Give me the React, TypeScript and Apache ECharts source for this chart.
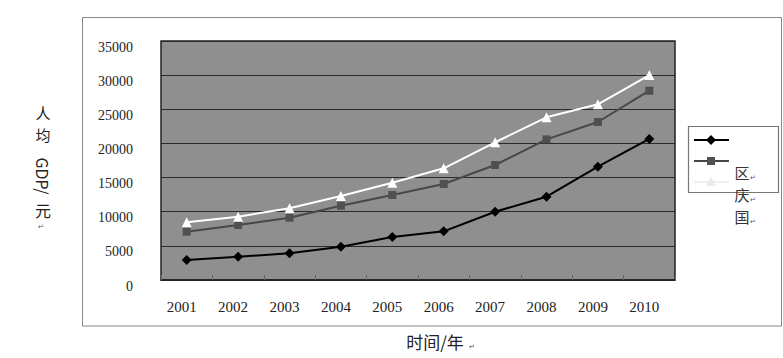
import React, { useEffect, useRef } from "react";
import * as echarts from "echarts";

const years = ["2001", "2002", "2003", "2004", "2005", "2006", "2007", "2008", "2009", "2010"];
const seriesNames = ["区", "庆", "国"];
const blackValues = [2930, 3410, 3910, 4880, 6300, 7130, 10000, 12200, 16590, 20650];
const grayValues = [7070, 8060, 9120, 10880, 12450, 14060, 16840, 20600, 23140, 27720];
const whiteValues = [8450, 9270, 10500, 12300, 14250, 16360, 20170, 23830, 25730, 30020];
const yMin = 0;
const yMax = 35000;
const yStep = 5000;

const serif = "'Liberation Serif', 'Times New Roman', serif";
const cjk = "'Noto Sans CJK SC', sans-serif";

function txt(text: string, x: number, y: number, size: number, extra: any = {}) {
  return {
    type: "text",
    x,
    y,
    rotation: extra.rotation || 0,
    z: 10,
    style: {
      text,
      x: 0,
      y: 0,
      fill: extra.fill || "#222",
      font: `${size}px ${extra.font || cjk}`,
      lineHeight: extra.lineHeight || size,
      align: extra.align || "center",
      verticalAlign: "middle",
      textAlign: extra.align || "center",
      textVerticalAlign: "middle",
    },
  };
}

export default function App() {
  const ref = useRef<HTMLDivElement>(null);
  useEffect(() => {
    if (!ref.current) return;
    const chart = echarts.init(ref.current, null, { renderer: "svg" });
    chart.setOption({
      animation: false,
      backgroundColor: "#fff",
      grid: {
        left: 161,
        top: 41,
        right: 108,
        bottom: 78,
        show: true,
        backgroundColor: "#8f8f8f",
        borderColor: "#222",
        borderWidth: 1.5,
      },
      xAxis: {
        type: "category",
        data: years,
        boundaryGap: true,
        axisLine: { show: true, lineStyle: { color: "#222", width: 1.5 } },
        axisTick: { show: true, inside: true, length: 5, lineStyle: { color: "#666" } },
        axisLabel: {
          color: "#222",
          fontFamily: serif,
          fontSize: 15,
          margin: 19,
          padding: [0, 10, 0, 0],
        },
      },
      yAxis: {
        type: "value",
        min: yMin,
        max: yMax,
        interval: yStep,
        axisLine: { show: false },
        axisTick: { show: false },
        splitLine: { show: true, lineStyle: { color: "#2a2a2a", width: 1 } },
        axisLabel: {
          color: "#222",
          fontFamily: serif,
          fontSize: 14,
          margin: 28,
          verticalAlign: "top",
          lineHeight: 12,
          formatter: (v: number) => String(v),
        },
      },
      series: [
        {
          type: "line",
          name: seriesNames[0],
          data: blackValues,
          symbol: "diamond",
          symbolSize: 10,
          lineStyle: { color: "#000", width: 2 },
          itemStyle: { color: "#000" },
        },
        {
          type: "line",
          name: seriesNames[1],
          data: grayValues,
          symbol: "rect",
          symbolSize: 8,
          lineStyle: { color: "#484848", width: 2 },
          itemStyle: { color: "#505050" },
        },
        {
          type: "line",
          name: seriesNames[2],
          data: whiteValues,
          symbol: "triangle",
          symbolSize: 10,
          lineStyle: { color: "#fff", width: 2 },
          itemStyle: { color: "#fff" },
        },
      ],
      graphic: [
        {
          type: "rect",
          z: 1,
          shape: { x: 82.5, y: 17.5, width: 699, height: 308.5 },
          style: { fill: "none", stroke: "#888", lineWidth: 1 },
        },
        {
          type: "rect",
          z: 5,
          shape: { x: 688.5, y: 126.5, width: 90, height: 66 },
          style: { fill: "#fff", stroke: "#777", lineWidth: 1.2 },
        },
        {
          type: "line",
          z: 6,
          shape: { x1: 694, y1: 140, x2: 729, y2: 140 },
          style: { stroke: "#000", lineWidth: 2 },
        },
        {
          type: "polygon",
          z: 7,
          shape: { points: [[711, 135], [716, 140], [711, 145], [706, 140]] },
          style: { fill: "#000" },
        },
        {
          type: "line",
          z: 6,
          shape: { x1: 694, y1: 161, x2: 729, y2: 161 },
          style: { stroke: "#484848", lineWidth: 2 },
        },
        {
          type: "rect",
          z: 7,
          shape: { x: 707, y: 157, width: 8, height: 8 },
          style: { fill: "#505050" },
        },
        {
          type: "line",
          z: 6,
          shape: { x1: 694, y1: 182, x2: 729, y2: 182 },
          style: { stroke: "#f0f0f0", lineWidth: 2 },
        },
        {
          type: "polygon",
          z: 7,
          shape: { points: [[711, 177], [716, 186], [706, 186]] },
          style: { fill: "#eaeaea" },
        },
        txt("区", 742, 172, 15, { fill: "#333" }),
        txt("庆", 742, 194, 15, { fill: "#333" }),
        txt("国", 742, 216, 15, { fill: "#333" }),
        txt("↵", 753, 177, 7, { fill: "#555" }),
        txt("↵", 753, 199, 7, { fill: "#555" }),
        txt("↵", 753, 221, 7, { fill: "#555" }),
        txt("人", 43, 112, 15),
        txt("均", 43, 134.5, 15),
        txt("GDP/", 43, 176, 16, { rotation: -Math.PI / 2 }),
        txt("元", 43, 210, 16),
        txt("↵", 41, 226, 7, { fill: "#555" }),
        txt("时间/年", 435, 341, 17),
        txt("↵", 472, 346, 7, { fill: "#555" }),
      ],
    });
    return () => chart.dispose();
  }, []);
  return (
    <div
      ref={ref}
      style={{ position: "absolute", left: 0, top: 0, width: 783, height: 358 }}
    />
  );
}
